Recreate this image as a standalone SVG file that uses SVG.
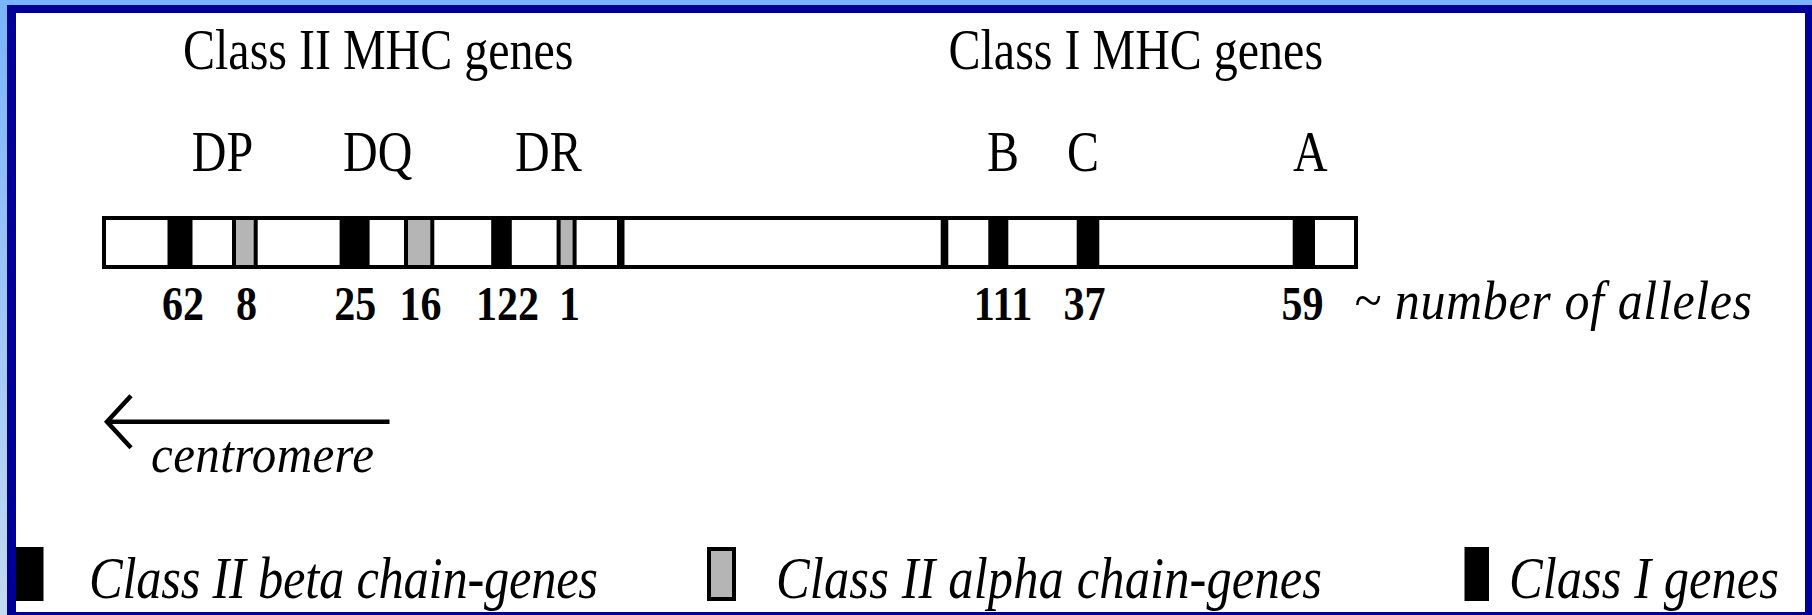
<svg xmlns="http://www.w3.org/2000/svg" width="1812" height="615" viewBox="0 0 1812 615">
  <defs>
    <linearGradient id="slideBg" x1="0" y1="0" x2="0" y2="1">
      <stop offset="0" stop-color="#7ab4fc"/>
      <stop offset="1" stop-color="#c3d9f2"/>
    </linearGradient>
    <marker id="openHead" markerUnits="userSpaceOnUse" viewBox="-32 -32 40 64" markerWidth="40" markerHeight="64" refX="0" refY="0" orient="auto" overflow="visible">
      <path d="M-24,-26 L0,0 L-24,26" fill="none" stroke="#000" stroke-width="4.5"/>
    </marker>
    <style>
      .serif { font-family: "Liberation Serif", "Times New Roman", serif; fill: #000; }
      .head { font-size: 48px; }
      .locus { font-size: 48px; }
      .count { font-size: 42px; font-weight: bold; text-anchor: middle; }
      .note { font-size: 50px; font-style: italic; }
      .legend { font-size: 50.5px; font-style: italic; }
      .beta { fill: #000; }
      .alpha { fill: #b5b5b5; stroke: #000; stroke-width: 4; }
      .classI { fill: #000; }
      .divider { fill: #000; }
    </style>
  </defs>

  <!-- slide background and frame -->
  <rect x="0" y="0" width="1812" height="615" fill="url(#slideBg)"/>
  <rect x="7" y="5" width="1805" height="610" fill="#000099"/>
  <rect x="16" y="13" width="1789" height="599" fill="#ffffff"/>

  <!-- region headings -->
  <g id="heading-class-ii">
    <text class="serif head" transform="translate(183,68.5) scale(1,1.18)">Class II MHC genes</text>
  </g>
  <g id="heading-class-i">
    <text class="serif head" transform="translate(948.5,68.5) scale(1,1.18)">Class I MHC genes</text>
  </g>

  <!-- chromosome segment -->
  <g id="chromosome">
    <rect x="104" y="218" width="1252" height="49" fill="#ffffff" stroke="#000" stroke-width="4"/>
    <rect class="divider" x="617" y="216" width="7.5" height="53"/>
    <rect class="divider" x="940.7" y="216" width="7.6" height="53"/>
  </g>

  <!-- class II loci -->
  <g id="locus-DP">
    <text class="serif locus" transform="translate(191.8,170.5) scale(1,1.17)">DP</text>
    <rect class="beta" x="167.5" y="216" width="25" height="53"/>
    <rect class="alpha" x="234" y="218" width="21.7" height="49"/>
    <text class="serif count" transform="translate(183,320) scale(1,1.16)">62</text>
    <text class="serif count" transform="translate(246.4,320) scale(1,1.16)">8</text>
  </g>
  <g id="locus-DQ">
    <text class="serif locus" transform="translate(343,170.5) scale(1,1.17)">DQ</text>
    <rect class="beta" x="339.6" y="216" width="30" height="53"/>
    <rect class="alpha" x="406" y="218" width="26.3" height="49"/>
    <text class="serif count" transform="translate(355.2,320) scale(1,1.16)">25</text>
    <text class="serif count" transform="translate(420.5,320) scale(1,1.16)">16</text>
  </g>
  <g id="locus-DR">
    <text class="serif locus" transform="translate(515,170.5) scale(1,1.17)">DR</text>
    <rect class="beta" x="491.2" y="216" width="20.6" height="53"/>
    <rect class="alpha" x="558.6" y="218" width="16" height="49"/>
    <text class="serif count" transform="translate(507.5,320) scale(1,1.16)">122</text>
    <text class="serif count" transform="translate(569.5,320) scale(1,1.16)">1</text>
  </g>

  <!-- class I loci -->
  <g id="locus-B">
    <text class="serif locus" transform="translate(987,170.5) scale(1,1.17)">B</text>
    <rect class="classI" x="988.3" y="216" width="20" height="53"/>
    <text class="serif count" transform="translate(1003,320) scale(1,1.16)">111</text>
  </g>
  <g id="locus-C">
    <text class="serif locus" transform="translate(1067,170.5) scale(1,1.17)">C</text>
    <rect class="classI" x="1076.7" y="216" width="22.6" height="53"/>
    <text class="serif count" transform="translate(1084.5,320) scale(1,1.16)">37</text>
  </g>
  <g id="locus-A">
    <text class="serif locus" transform="translate(1293,170.5) scale(1,1.17)">A</text>
    <rect class="classI" x="1292.7" y="216" width="22.3" height="53"/>
    <text class="serif count" transform="translate(1302.4,320) scale(1,1.16)">59</text>
  </g>

  <g id="allele-note">
    <text class="serif note" transform="translate(1354,319) scale(1,1.08)" textLength="398" lengthAdjust="spacing">~ number of alleles</text>
  </g>

  <!-- direction towards the centromere -->
  <g id="connectors">
    <line x1="389.5" y1="421.7" x2="107" y2="421.7" stroke="#000" stroke-width="4.5" marker-end="url(#openHead)"/>
  </g>
  <g id="centromere-label">
    <text class="serif note" style="font-size:49px" transform="translate(151,471.5) scale(1,1.08)" textLength="223" lengthAdjust="spacing">centromere</text>
  </g>

  <!-- key -->
  <g id="key-beta">
    <rect class="beta" x="16" y="547" width="27.5" height="54"/>
    <text class="serif legend" transform="translate(89,598) scale(1,1.18)" textLength="509" lengthAdjust="spacing">Class II beta chain-genes</text>
  </g>
  <g id="key-alpha">
    <rect class="alpha" x="709" y="549" width="25" height="50"/>
    <text class="serif legend" transform="translate(776,598) scale(1,1.18)" textLength="546" lengthAdjust="spacing">Class II alpha chain-genes</text>
  </g>
  <g id="key-class-i">
    <rect class="classI" x="1464.5" y="547" width="24.5" height="54"/>
    <text class="serif legend" transform="translate(1509,598) scale(1,1.18)" textLength="270" lengthAdjust="spacing">Class I genes</text>
  </g>
</svg>
